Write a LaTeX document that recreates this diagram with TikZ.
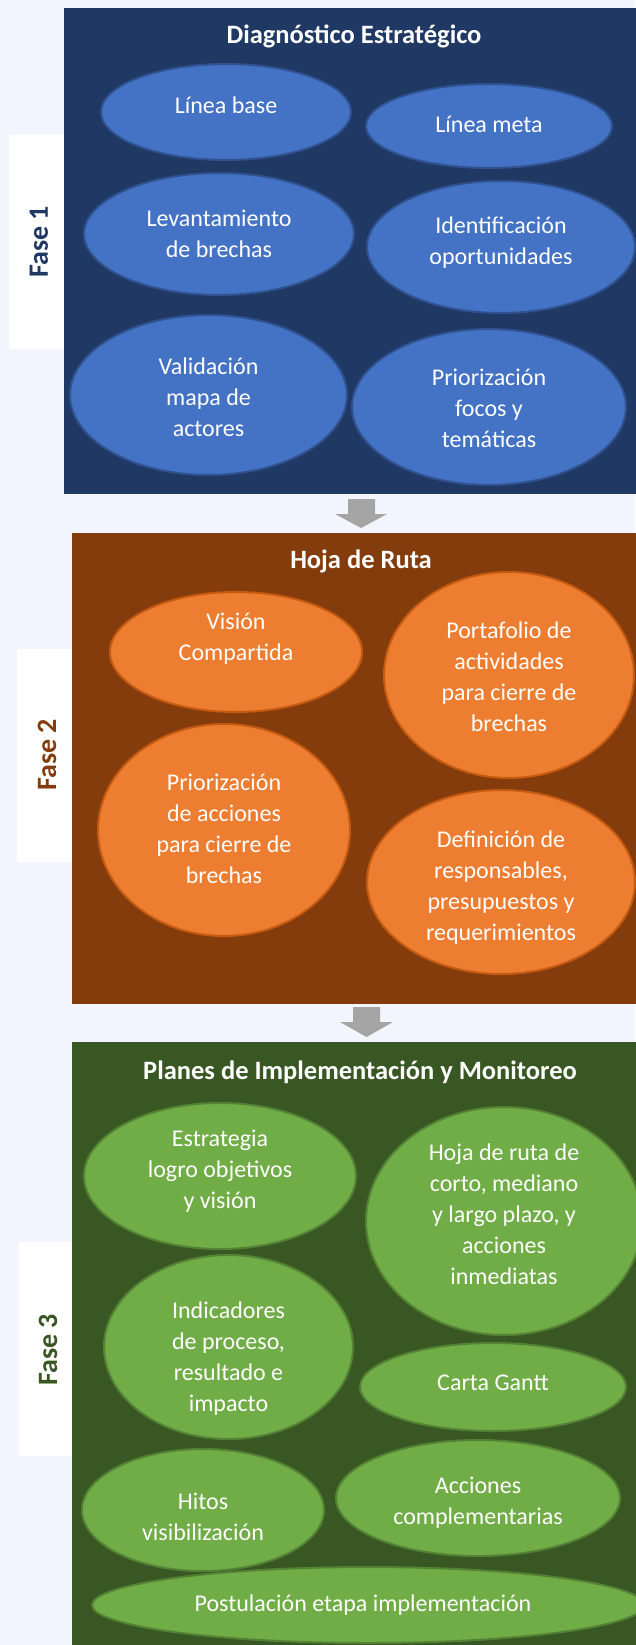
\documentclass[tikz,border=0pt]{standalone}
\usepackage{fontspec}
\setmainfont{Carlito}
\usetikzlibrary{shapes.geometric}
\definecolor{pagebg}{RGB}{242,245,253}
\definecolor{navy}{RGB}{32,56,100}
\definecolor{brown}{RGB}{132,60,12}
\definecolor{dgreen}{RGB}{56,87,35}
\definecolor{blueF}{RGB}{68,114,196}
\definecolor{blueB}{RGB}{47,82,143}
\definecolor{orangeF}{RGB}{237,125,49}
\definecolor{orangeB}{RGB}{197,90,17}
\definecolor{greenF}{RGB}{112,173,71}
\definecolor{greenB}{RGB}{84,130,53}
\definecolor{arrowgray}{RGB}{165,165,165}
\tikzset{
  bub/.style={ellipse, inner sep=0pt, line width=2pt},
  bubblue/.style={bub, fill=blueF, draw=blueB},
  buborange/.style={bub, fill=orangeF, draw=orangeB},
  bubgreen/.style={bub, fill=greenF, draw=greenB},
  btext/.style={text=white, align=center, font=\fontsize{24}{31}\selectfont, inner sep=0pt},
  ttl/.style={text=white, font=\bfseries\fontsize{26.5}{30}\selectfont, inner sep=0pt},
  fasebox/.style={fill=white},
  faselbl/.style={rotate=90, font=\bfseries\fontsize{28}{32}\selectfont, inner sep=0pt},
}
\begin{document}
\begin{tikzpicture}[x=1pt,y=-1pt]
\useasboundingbox (0,0) rectangle (635,1645);
\fill[pagebg] (0,0) rectangle (635,1645);
% fase boxes
\fill[fasebox] (9,135) rectangle (70,349);
\fill[fasebox] (17,649) rectangle (76,862);
\fill[fasebox] (19,1242) rectangle (76,1456);
% panels
\fill[navy] (64,8.5) rectangle (640,494);
\fill[brown] (72,533) rectangle (640,1004);
\fill[dgreen] (72,1042) rectangle (640,1650);
% arrows
\fill[arrowgray] (348,499) -- (375,499) -- (375,514) -- (387,514) -- (361,528) -- (335,514) -- (348,514) -- cycle;
\fill[arrowgray] (353,1007) -- (380,1007) -- (380,1022) -- (393,1022) -- (366.5,1037) -- (340,1022) -- (353,1022) -- cycle;
% fase labels
\node[faselbl, text=navy] (f1) at (39,242) {Fase 1};
\node[faselbl, text=brown] (f2) at (47,755) {Fase 2};
\node[faselbl, text=dgreen] (f3) at (48,1350) {Fase 3};
% titles
\node[ttl] (t1) at (354,36) {Diagnóstico Estratégico};
\node[ttl] (t2) at (361,561) {Hoja de Ruta};
\node[ttl] (t3) at (360,1072) {Planes de Implementación y Monitoreo};
% Fase 1 ellipses
\node[bubblue, minimum width=250pt, minimum height=96pt] (e11) at (226,112) {};
\node[bubblue, minimum width=246pt, minimum height=84pt] (e12) at (489,126) {};
\node[bubblue, minimum width=270pt, minimum height=122pt] (e13) at (219,234) {};
\node[bubblue, minimum width=268pt, minimum height=132pt] (e14) at (501,247) {};
\node[bubblue, minimum width=277pt, minimum height=160pt] (e15) at (208.5,395) {};
\node[bubblue, minimum width=274pt, minimum height=156pt] (e16) at (489,407) {};
\node[btext] (x11) at (226,105) {Línea base};
\node[btext] (x12) at (489,124) {Línea meta};
\node[btext] (x13) at (219,234) {Levantamiento\\de brechas};
\node[btext] (x14) at (501,243) {Identificación\\oportunidades};
\node[btext] (x15) at (208.5,397) {Validación\\mapa de\\actores};
\node[btext] (x16) at (489,408) {Priorización\\focos y\\temáticas};
% Fase 2 ellipses
\node[buborange, minimum width=252pt, minimum height=120pt] (e21) at (236,652) {};
\node[buborange, minimum width=250pt, minimum height=206pt] (e22) at (509,675) {};
\node[buborange, minimum width=252pt, minimum height=212pt] (e23) at (224,830) {};
\node[buborange, minimum width=268pt, minimum height=184pt] (e24) at (501,882) {};
\node[btext] (x21) at (236,639) {Visión\\Compartida};
\node[btext] (x22) at (509,677) {Portafolio de\\actividades\\para cierre de\\brechas};
\node[btext] (x23) at (224,829) {Priorización\\de acciones\\para cierre de\\brechas};
\node[btext] (x24) at (501,888) {Definición de\\responsables,\\presupuestos y\\requerimientos};
% Fase 3 ellipses
\node[bubgreen, minimum width=272pt, minimum height=146pt] (e31) at (220,1176) {};
\node[bubgreen, minimum width=276pt, minimum height=228pt] (e32) at (504,1221) {};
\node[bubgreen, minimum width=249pt, minimum height=184pt] (e33) at (228.5,1347) {};
\node[bubgreen, minimum width=266pt, minimum height=88pt] (e34) at (493,1387) {};
\node[bubgreen, minimum width=242pt, minimum height=122pt] (e35) at (203,1510) {};
\node[bubgreen, minimum width=284pt, minimum height=116pt] (e36) at (478,1498) {};
\node[bubgreen, minimum width=552pt, minimum height=76pt] (e37) at (368,1605) {};
\node[btext] (x31) at (220,1171) {Estrategia\\logro objetivos\\y visión};
\node[btext] (x32) at (504,1214) {Hoja de ruta de\\corto, mediano\\y largo plazo, y\\acciones\\inmediatas};
\node[btext] (x33) at (228.5,1359) {Indicadores\\de proceso,\\resultado e\\impacto};
\node[btext] (x34) at (493,1383) {Carta Gantt};
\node[btext] (x35) at (203,1517) {Hitos\\visibilización};
\node[btext] (x36) at (478,1503) {Acciones\\complementarias};
\node[btext] (x37) at (363,1605) {Postulación etapa implementación};
\end{tikzpicture}
\end{document}
